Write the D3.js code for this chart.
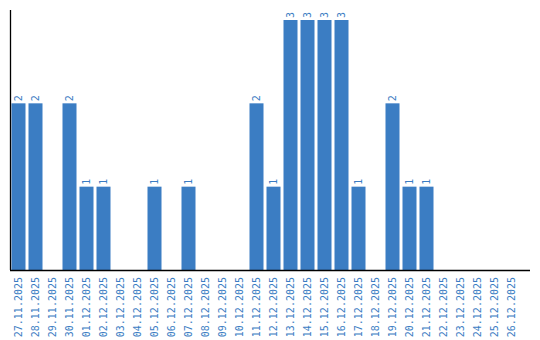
<!DOCTYPE html>
<html>
<head>
<meta charset="utf-8">
<script src="https://cdn.jsdelivr.net/npm/d3@7"></script>
<style>
  html, body { margin: 0; padding: 0; background: #fff; }
  svg { display: block; }
</style>
</head>
<body>
<svg id="chart" width="540" height="340"></svg>
<script>
const dates = [
  "27.11.2025", "28.11.2025", "29.11.2025", "30.11.2025", "01.12.2025",
  "02.12.2025", "03.12.2025", "04.12.2025", "05.12.2025", "06.12.2025",
  "07.12.2025", "08.12.2025", "09.12.2025", "10.12.2025", "11.12.2025",
  "12.12.2025", "13.12.2025", "14.12.2025", "15.12.2025", "16.12.2025",
  "17.12.2025", "18.12.2025", "19.12.2025", "20.12.2025", "21.12.2025",
  "22.12.2025", "23.12.2025", "24.12.2025", "25.12.2025", "26.12.2025"
];
const counts = [2, 2, 0, 2, 1, 1, 0, 0, 1, 0, 1, 0, 0, 0, 2, 1, 3, 3, 3, 3, 1, 0, 2, 1, 1, 0, 0, 0, 0, 0];

const data = dates.map((d, i) => ({ date: d, value: counts[i] }));

const svg = d3.select("#chart");
const mLeft = 10, mRight = 530, mBottom = 270, mTop = 10;
const barColor = "#3b7dc3";
const textColor = "#3b7dc3";
const labelFont = "10px 'DejaVu Sans Mono', monospace";

const x = d3.scaleBand()
  .domain(dates)
  .range([mLeft, 520])
  .paddingInner(3 / 17)
  .paddingOuter(1.5 / 17);

const y = d3.scaleLinear()
  .domain([0, 3])
  .range([mBottom, 20]);

// bars
svg.append("g")
  .selectAll("rect")
  .data(data.filter(d => d.value > 0))
  .join("rect")
  .attr("x", d => x(d.date))
  .attr("y", d => y(d.value))
  .attr("width", x.bandwidth())
  .attr("height", d => mBottom - y(d.value))
  .attr("fill", barColor);

// value labels
svg.append("g")
  .selectAll("text")
  .data(data.filter(d => d.value > 0))
  .join("text")
  .attr("transform", d => `translate(${x(d.date) + x.bandwidth() / 2 + 3.5},${y(d.value) - 2}) rotate(-90)`)
  .attr("text-anchor", "start")
  .attr("fill", textColor)
  .style("font", labelFont)
  .text(d => d.value);

// axis lines
svg.append("line")
  .attr("x1", mLeft + 0.5).attr("x2", mLeft + 0.5)
  .attr("y1", mTop).attr("y2", mBottom)
  .attr("stroke", "#000").attr("stroke-width", 1.3);
svg.append("line")
  .attr("x1", mLeft).attr("x2", mRight)
  .attr("y1", mBottom + 0.5).attr("y2", mBottom + 0.5)
  .attr("stroke", "#000").attr("stroke-width", 1.3);

// tick labels
svg.append("g")
  .selectAll("text")
  .data(dates)
  .join("text")
  .attr("transform", d => `translate(${x(d) + x.bandwidth() / 2 + 3.5},${mBottom + 7}) rotate(-90)`)
  .attr("text-anchor", "end")
  .attr("fill", textColor)
  .style("font", labelFont)
  .text(d => d);
</script>
</body>
</html>
